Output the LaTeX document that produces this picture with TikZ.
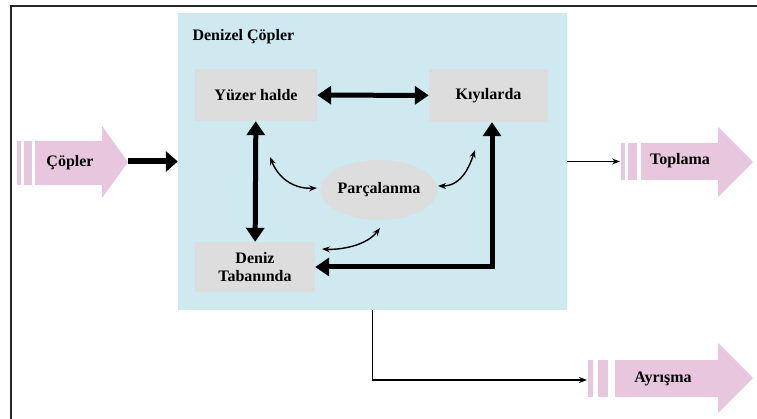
\documentclass[tikz,border=0pt]{standalone}
\usepackage{fontspec}
\setmainfont{Liberation Serif}
\usetikzlibrary{arrows.meta,shapes.geometric}
\definecolor{seablue}{RGB}{206,233,240}
\definecolor{boxgray}{RGB}{221,221,221}
\definecolor{flowpink}{RGB}{232,198,221}
\begin{document}
\begin{tikzpicture}[x=1pt, y=-1pt,
    font=\fontsize{16}{18}\selectfont\bfseries,
    basin/.style ={fill=seablue, minimum width=389pt, minimum height=297pt, inner sep=0pt},
    place/.style ={fill=boxgray, align=center, inner sep=0pt},
    blob/.style ={ellipse, fill=boxgray, minimum width=112pt, minimum height=60pt, inner sep=0pt},
    bigarrow/.style ={line width=5pt, {Triangle[length=14pt,width=18pt]}-{Triangle[length=14pt,width=18pt]}},
    smallarrow/.style ={line width=1.4pt, {Stealth[length=8pt,width=6pt]}-{Stealth[length=8pt,width=6pt]}},
    flowline/.style ={line width=1.6pt, -{Stealth[length=8pt,width=6pt]}}]
   \useasboundingbox (0,0) rectangle (757,419);
   \draw[line width=1.8pt, black!85] (11,419) -- (11,6) -- (757,6);

   % sea box
   \node[basin] (sea) at (372.5,161.5) {};
   \node[anchor=west] (title) at (189,37) {Denizel Çöpler};

   \node[place, minimum width=122pt, minimum height=52pt] (yuzer) at (256,95) {Yüzer halde};
   \node[place, minimum width=119pt, minimum height=53pt] (kiyi) at (488.5,95.5) {Kıyılarda};
   \node[place, minimum width=120pt, minimum height=50pt] (taban) at (255,267) {Deniz\\Tabanında};
   \node[blob] (parca) at (379,190) {Parçalanma};

   \draw[bigarrow] (yuzer) -- (kiyi);
   \draw[bigarrow] (yuzer) -- (taban);
   \draw[bigarrow] ([xshift=3.5pt]kiyi.south) |- (taban);

   \coordinate (ya) at (270,157);
   \coordinate (pa) at (317,188);
   \coordinate (pb) at (438,186);
   \coordinate (ka) at (475,150);
   \coordinate (pc) at (380,228);
   \coordinate (ta) at (322,249);
   \draw[smallarrow] (ya) .. controls (280,182) and (298,189) .. (pa);
   \draw[smallarrow] (pb) .. controls (462,186) and (470,165) .. (ka);
   \draw[smallarrow] (pc) .. controls (366,246) and (340,250) .. (ta);

   % pink flows
   \fill[flowpink] (35,141) -- (102,141) -- (102,126) -- (128,162) -- (102,198) -- (102,185) -- (35,185) -- cycle;
   \fill[flowpink] (17,141) rectangle (21,185);
   \fill[flowpink] (24,141) rectangle (32,185);
   \node (copler) at (70,163) {Çöpler};
   \coordinate (coplertip) at (128,161.5);

   \fill[flowpink] (641,143) -- (718,143) -- (718,127) -- (753,162) -- (718,197) -- (718,180) -- (641,180) -- cycle;
   \fill[flowpink] (621,143) rectangle (625,180);
   \fill[flowpink] (628,143) rectangle (637,180);
   \node (toplama) at (680,161) {Toplama};
   \coordinate (toplamain) at (620,161.5);

   \fill[flowpink] (615,360) -- (718,360) -- (718,343) -- (753,378) -- (718,413) -- (718,397) -- (615,397) -- cycle;
   \fill[flowpink] (588,360) rectangle (593,397);
   \fill[flowpink] (598,360) rectangle (608,397);
   \node (ayrisma) at (663,379) {Ayrışma};
   \coordinate (ayrismain) at (587,380);

   \draw[line width=6pt, -{Triangle[length=12pt,width=20pt]}] (coplertip) -- (sea.west);
   \draw[flowline] (sea.east) -- (toplamain);
   \draw[flowline] (sea.south) |- (ayrismain);

\end{tikzpicture}
\end{document}
